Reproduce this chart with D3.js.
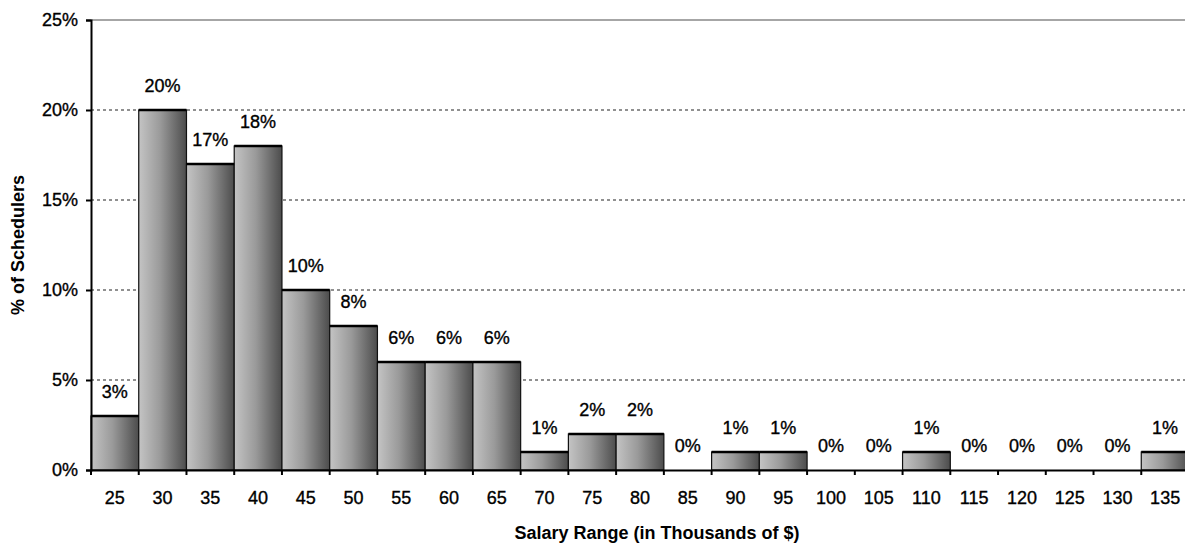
<!DOCTYPE html>
<html>
<head>
<meta charset="utf-8">
<script src="https://cdn.jsdelivr.net/npm/d3@7"></script>
<style>
  body { margin: 0; background: #fff; }
  text { font-family: "Liberation Sans", Arial, sans-serif; fill: #000; }
  .heavy { stroke: #000; stroke-width: 0.35px; }
</style>
</head>
<body>
<div id="chart"></div>
<script>
var salaries = ["25","30","35","40","45","50","55","60","65","70","75","80","85","90","95","100","105","110","115","120","125","130","135"];
var percents = [3,20,17,18,10,8,6,6,6,1,2,2,0,1,1,0,0,1,0,0,0,0,1];
var yTicks = [0,5,10,15,20,25];

(function() {
  var width = 1185, height = 546;
  var plotLeft = 91, plotRight = 1189, plotTop = 20, plotBottom = 470;

  var svg = d3.select("#chart").append("svg")
    .attr("width", width)
    .attr("height", height);

  var defs = svg.append("defs");
  var grad = defs.append("linearGradient")
    .attr("id", "barGrad")
    .attr("x1", "0%").attr("x2", "100%")
    .attr("y1", "0%").attr("y2", "0%");
  grad.append("stop").attr("offset", "0%").attr("stop-color", "#c4c4c4");
  grad.append("stop").attr("offset", "45%").attr("stop-color", "#9a9a9a");
  grad.append("stop").attr("offset", "100%").attr("stop-color", "#4c4c4c");

  var x = d3.scaleBand().domain(salaries).range([plotLeft, plotRight]).padding(0);
  var y = d3.scaleLinear().domain([0, 25]).range([plotBottom, plotTop]);

  // gridlines
  svg.selectAll(".grid")
    .data(yTicks.filter(function(d) { return d > 0 && d < 25; }))
    .enter().append("line")
    .attr("x1", plotLeft).attr("x2", plotRight)
    .attr("y1", function(d) { return y(d); })
    .attr("y2", function(d) { return y(d); })
    .attr("stroke", "#222")
    .attr("stroke-width", 1.2)
    .attr("stroke-dasharray", "3,3");

  svg.append("line")
    .attr("x1", plotLeft).attr("x2", plotRight)
    .attr("y1", y(25)).attr("y2", y(25))
    .attr("stroke", "#888").attr("stroke-width", 1.5);

  // bars
  var data = salaries.map(function(s, i) { return { s: s, v: percents[i] }; });
  var nonZero = data.filter(function(d) { return d.v > 0; });

  svg.selectAll(".bar")
    .data(nonZero)
    .enter().append("rect")
    .attr("class", "bar")
    .attr("x", function(d) { return x(d.s); })
    .attr("y", function(d) { return y(d.v); })
    .attr("width", x.bandwidth())
    .attr("height", function(d) { return y(0) - y(d.v); })
    .attr("fill", "url(#barGrad)")
    .attr("stroke", "#111")
    .attr("stroke-width", 1.2);

  svg.selectAll(".bartop")
    .data(nonZero)
    .enter().append("line")
    .attr("x1", function(d) { return x(d.s); })
    .attr("x2", function(d) { return x(d.s) + x.bandwidth(); })
    .attr("y1", function(d) { return y(d.v); })
    .attr("y2", function(d) { return y(d.v); })
    .attr("stroke", "#000")
    .attr("stroke-width", 2.5);

  // value labels
  svg.selectAll(".lbl")
    .data(data)
    .enter().append("text")
    .attr("class", "heavy")
    .attr("x", function(d) { return x(d.s) + x.bandwidth() / 2; })
    .attr("y", function(d) { return y(d.v) - 18; })
    .attr("text-anchor", "middle")
    .style("font-size", "18px")
    .text(function(d) { return d.v + "%"; });

  // y axis
  var yAxis = svg.append("g")
    .attr("transform", "translate(" + plotLeft + ",0)")
    .call(d3.axisLeft(y).tickValues(yTicks).tickSize(5).tickPadding(8)
      .tickFormat(function(d) { return d + "%"; }));
  yAxis.select(".domain").attr("stroke", "#000").attr("stroke-width", 2);
  yAxis.selectAll(".tick line").attr("stroke", "#000").attr("stroke-width", 2);
  yAxis.selectAll("text")
    .attr("class", "heavy")
    .style("font-size", "18px")
    .style("font-family", "'Liberation Sans', Arial, sans-serif")
    .attr("fill", "#000");

  // x axis
  var xAxis = svg.append("g")
    .attr("transform", "translate(0," + plotBottom + ")")
    .call(d3.axisBottom(x).tickSize(0).tickPadding(21));
  xAxis.select(".domain").attr("stroke", "#000").attr("stroke-width", 2);
  xAxis.selectAll("text")
    .attr("class", "heavy")
    .style("font-size", "18px")
    .style("font-family", "'Liberation Sans', Arial, sans-serif")
    .attr("fill", "#000");

  // x tick marks at band boundaries
  var bounds = salaries.map(function(s) { return x(s); }).concat([plotRight]);
  svg.selectAll(".xtick")
    .data(bounds)
    .enter().append("line")
    .attr("x1", function(d) { return d; })
    .attr("x2", function(d) { return d; })
    .attr("y1", plotBottom).attr("y2", plotBottom + 5)
    .attr("stroke", "#000").attr("stroke-width", 2);

  // axis titles
  svg.append("text")
    .attr("x", 657)
    .attr("y", 539)
    .attr("text-anchor", "middle")
    .style("font-size", "18px")
    .style("font-weight", "bold")
    .text("Salary Range (in Thousands of $)");

  svg.append("text")
    .attr("transform", "translate(24,245) rotate(-90)")
    .attr("text-anchor", "middle")
    .style("font-size", "18px")
    .style("font-weight", "bold")
    .text("% of Schedulers");
})();
</script>
</body>
</html>
